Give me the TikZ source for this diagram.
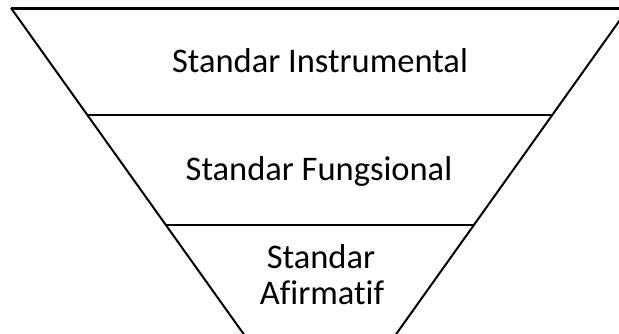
\documentclass[tikz,border=0pt]{standalone}
\usepackage{fontspec}
\setmainfont[Ligatures={NoCommon}]{Carlito}
\usetikzlibrary{calc}
\begin{document}
\begin{tikzpicture}[x=1pt,y=-1pt,
  edge/.style={line width=2pt,black},
  topedge/.style={line width=3pt,black},
  lbl/.style={font=\fontsize{34.5}{36}\selectfont,anchor=base,inner sep=0pt,align=center}]
\useasboundingbox (0,0) rectangle (619,333);
\clip (0,0) rectangle (619,333);
\coordinate (TL) at (11,8);
\coordinate (TR) at (628.5,8);
\coordinate (AP) at (320,441);
\coordinate (L1) at (87.4,115);
\coordinate (R1) at (552.1,115);
\coordinate (L2) at (165.9,225);
\coordinate (R2) at (473.6,225);
\draw[topedge] (TL) -- (TR);
\draw[edge,line join=miter] (TL) -- (AP) -- (TR);
\draw[edge] (L1) -- (R1);
\draw[edge] (L2) -- (R2);
\node[lbl] (n1) at (320,72) {Standar Instrumental};
\node[lbl] (n2) at (319,180) {Standar Fungsional};
\node[lbl] (n3a) at (321,268) {Standar};
\node[lbl] (n3b) at (322,304) {Afirmatif};
\end{tikzpicture}
\end{document}
